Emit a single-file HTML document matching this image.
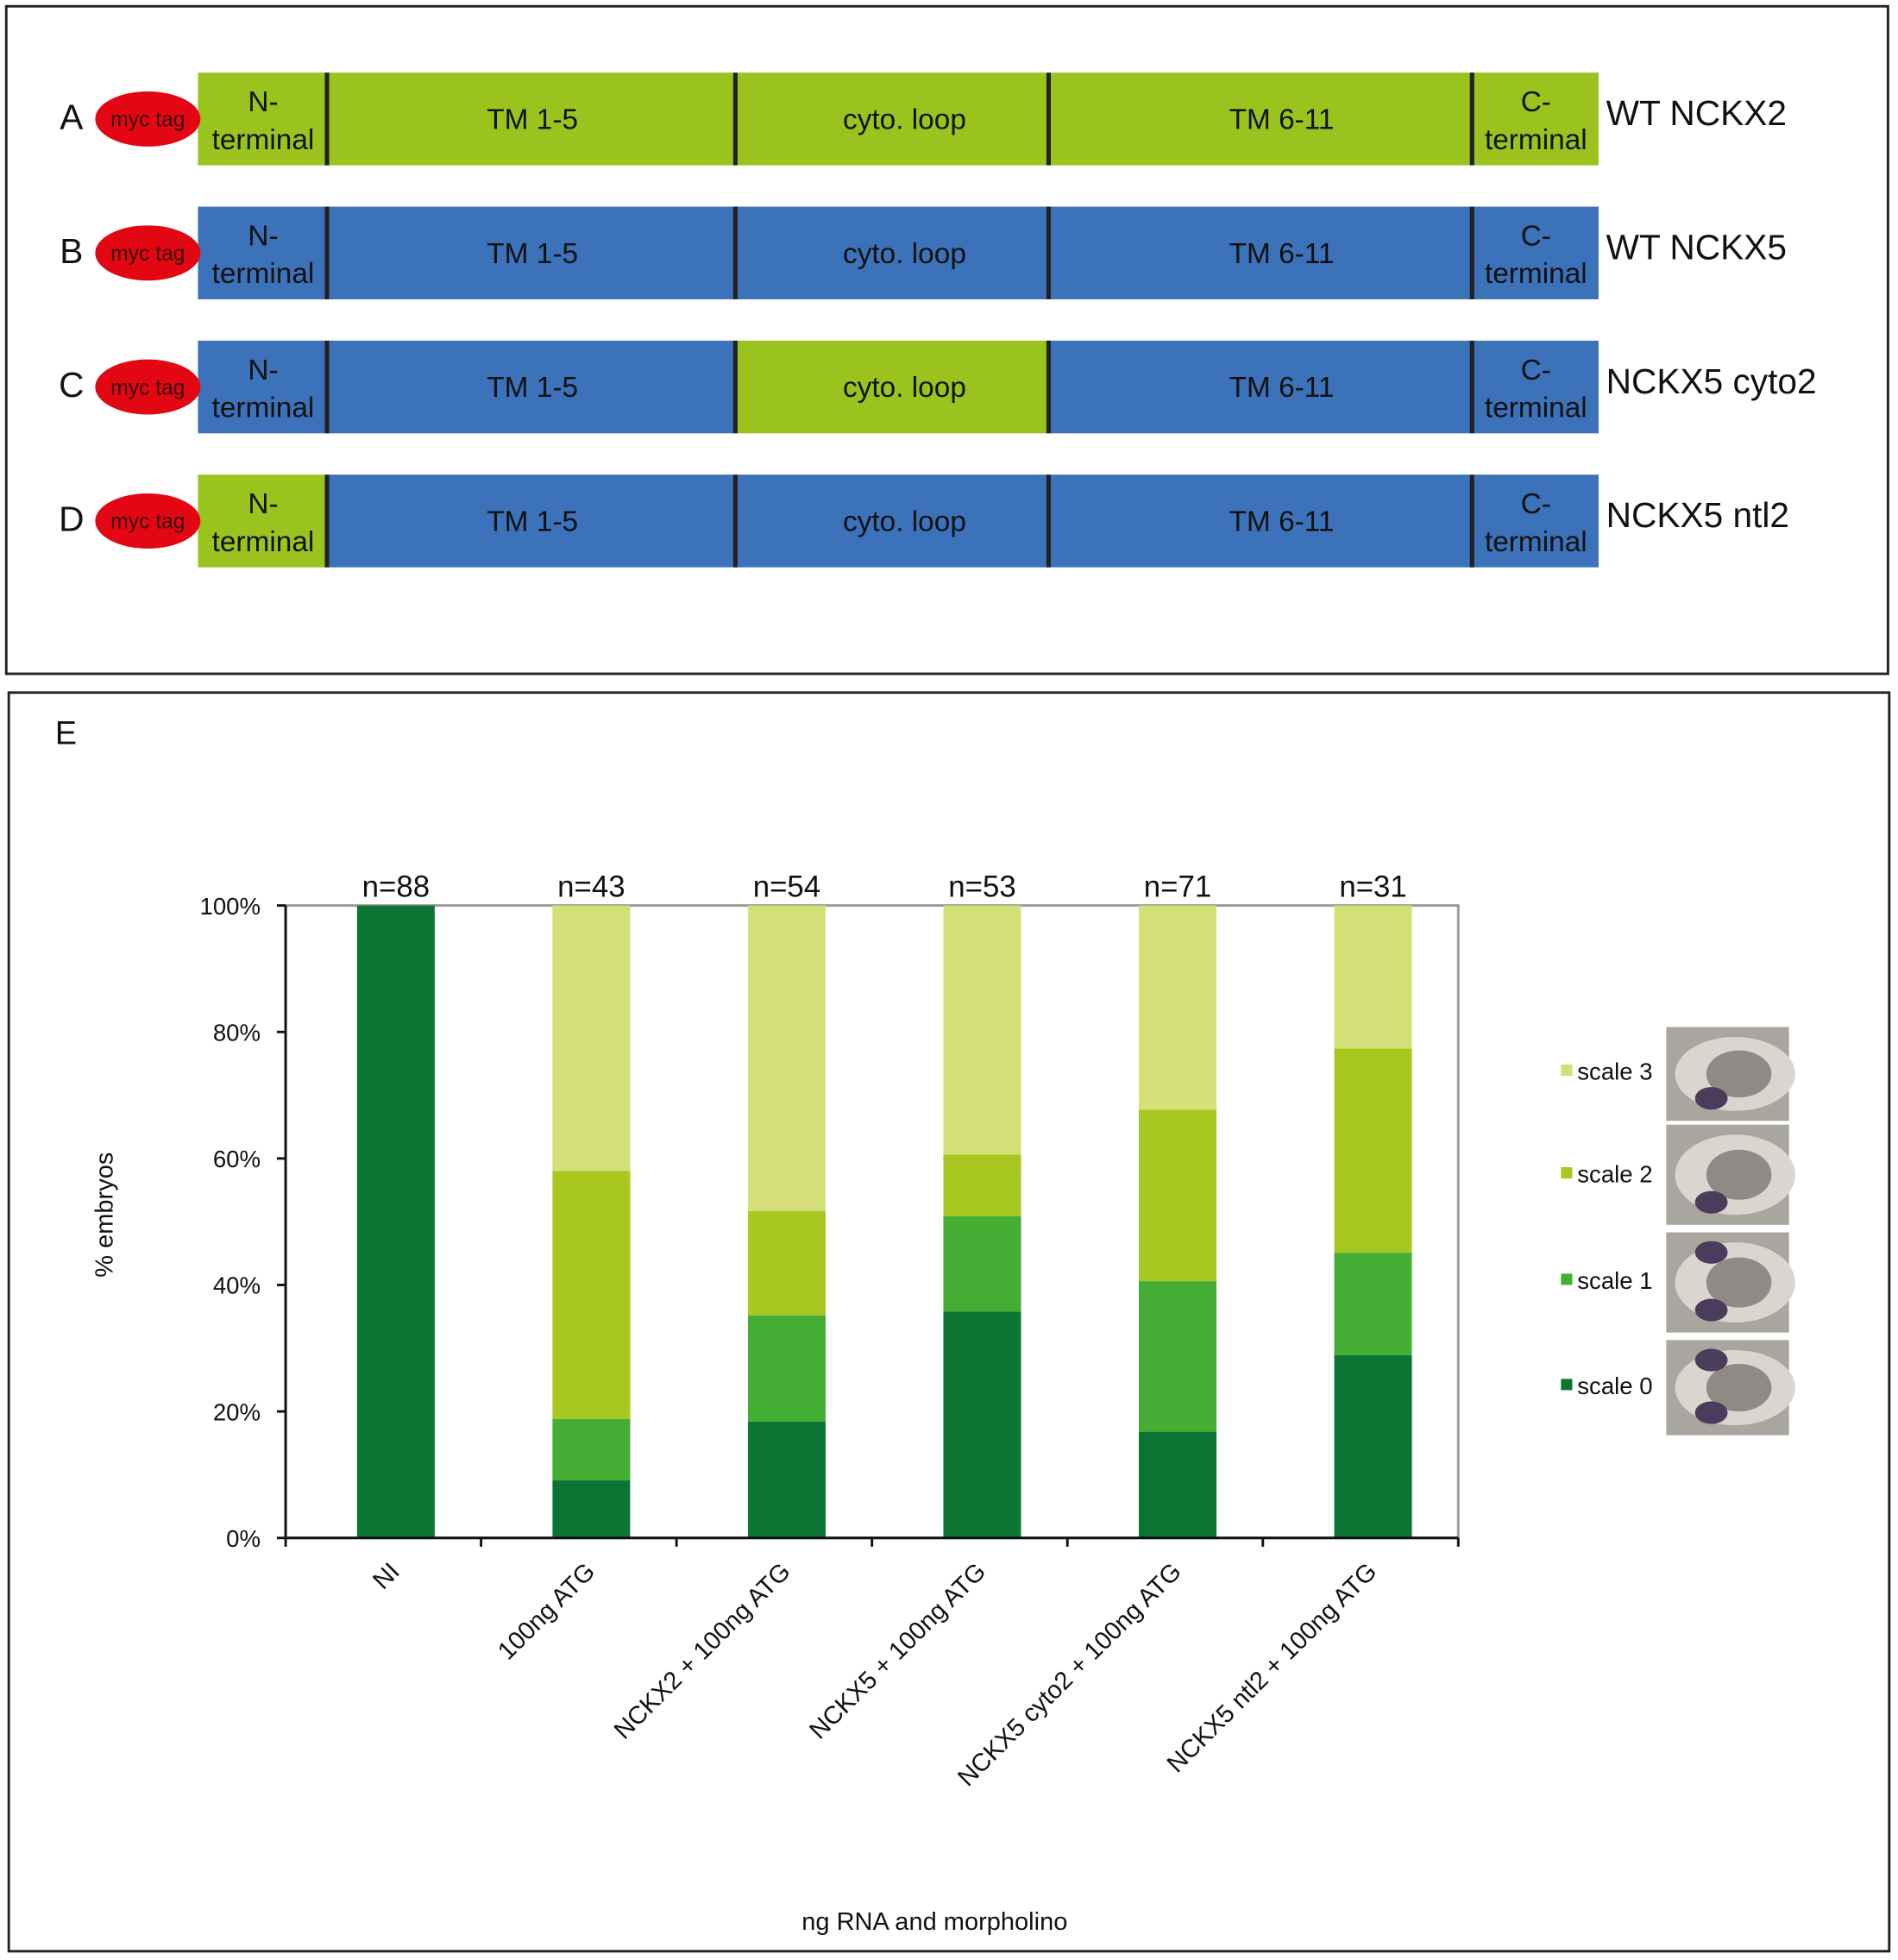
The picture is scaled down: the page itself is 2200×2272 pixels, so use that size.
<!DOCTYPE html>
<html><head><meta charset="utf-8"><style>
html,body{margin:0;padding:0;background:#fff}
svg{display:block;font-family:"Liberation Sans",sans-serif}
</style></head><body>
<svg id="fig" width="2200" height="2272" viewBox="0 0 1515 1565" preserveAspectRatio="none">
<rect x="5" y="5" width="1502" height="533" fill="none" stroke="#222" stroke-width="2"/>
<rect x="7" y="553" width="1501" height="1005" fill="none" stroke="#222" stroke-width="2"/>
<g id="constructs"></g>
<text x="44" y="594" font-size="26" fill="#111">E</text>
<g id="chart"></g>
<g id="legend"></g>
</svg>
<script>
const categories=["NI","100ng ATG","NCKX2 + 100ng ATG","NCKX5 + 100ng ATG","NCKX5 cyto2 + 100ng ATG","NCKX5 ntl2 + 100ng ATG"];
const nLabels=["n=88","n=43","n=54","n=53","n=71","n=31"];
const scale0=[100,9.1,18.4,35.8,16.8,28.9];
const scale1=[0,9.7,16.8,15.1,23.8,16.2];
const scale2=[0,39.2,16.5,9.7,27.1,32.3];
const scale3=[0,42.0,48.3,39.4,32.3,22.6];
const yTicks=[0,20,40,60,80,100];
const seriesNames=["scale 0","scale 1","scale 2","scale 3"];
const NS="http://www.w3.org/2000/svg";
function mk(tag,attrs,parent,text){const e=document.createElementNS(NS,tag);for(const k in attrs)e.setAttribute(k,attrs[k]);if(text!==undefined)e.textContent=text;parent.appendChild(e);return e;}
const G="#9bc31d",B="#3b72b9";
const rows=[{l:"A",y:58,c:[G,G,G,G,G],name:"WT NCKX2"},{l:"B",y:165,c:[B,B,B,B,B],name:"WT NCKX5"},{l:"C",y:272,c:[B,B,G,B,B],name:"NCKX5 cyto2"},{l:"D",y:379,c:[G,B,B,B,B],name:"NCKX5 ntl2"}];
const xs=[158,261,587,837,1175,1276];
const cons=document.getElementById('constructs');
rows.forEach((r,i)=>{
 const g=mk('g',{},cons);
 
 
 const h=74,cy=r.y+h/2;
 let t=mk('text',{x:57,y:cy+8,'font-size':28,'text-anchor':'middle',fill:'#111'},g,r.l);
 
 for(let k=0;k<5;k++){const s=mk('rect',{x:xs[k],y:r.y,width:xs[k+1]-xs[k],height:h,fill:r.c[k]},g);
  }
 for(let k=1;k<5;k++){mk('line',{x1:xs[k],x2:xs[k],y1:r.y,y2:r.y+h,stroke:'#222','stroke-width':3.5},g);}
 const el=mk('ellipse',{cx:118,cy:cy,rx:42,ry:22,fill:'#e30613'},g);
 
 mk('text',{x:118,y:cy+6,'font-size':17,'text-anchor':'middle',fill:'#3a0a0a'},g,'myc tag');
 const two=(x,a,b)=>{mk('text',{x:x,y:cy-6,'font-size':23,'text-anchor':'middle',fill:'#111'},g,a);mk('text',{x:x,y:cy+24,'font-size':23,'text-anchor':'middle',fill:'#111'},g,b);};
 two(210,'N-','terminal');two(1226,'C-','terminal');
 [["TM 1-5",425],["cyto. loop",722],["TM 6-11",1023]].forEach(([s,x])=>mk('text',{x:x,y:cy+8,'font-size':23,'text-anchor':'middle',fill:'#111'},g,s));
 const nm=mk('text',{x:1282,y:cy+5,'font-size':28,fill:'#111'},g,r.name);
 
});
const ch=document.getElementById('chart');
const X0=228,X1=1164,Y0=1228,Y1=723,n=categories.length,bw=(X1-X0)/n,barW=62;
const yS=v=>Y0-(v/100)*(Y0-Y1);
const cx=i=>X0+bw*(i+0.5)+10;
let pf=mk('rect',{x:X0,y:Y1,width:X1-X0,height:Y0-Y1,fill:'none',stroke:'#999','stroke-width':2},ch);

const colors=["#0b7634","#43ad34","#a8c720","#d4df77"];
const series=[scale0,scale1,scale2,scale3];
for(let i=0;i<n;i++){let acc=0;
 series.forEach((s,k)=>{const v=s[i];if(v>0){const r=mk('rect',{x:cx(i)-barW/2,y:yS(acc+v),width:barW,height:yS(acc)-yS(acc+v),fill:colors[k]},ch);
  }acc+=v;});
 const t=mk('text',{x:cx(i),y:Y1-7,'font-size':24,'text-anchor':'middle',fill:'#111'},ch,nLabels[i]);
 
 const ax=cx(i)+4,ay=Y0+28;
 const c=mk('text',{x:ax,y:ay,'font-size':20,'text-anchor':'end',fill:'#111',transform:`rotate(-45 ${ax} ${ay})`},ch,categories[i]);
 
}
mk('line',{x1:X0,x2:X0,y1:Y1,y2:Y0,stroke:'#111','stroke-width':2},ch);
mk('line',{x1:X0,x2:X1,y1:Y0,y2:Y0,stroke:'#111','stroke-width':2},ch);
for(let i=0;i<=n;i++)mk('line',{x1:X0+bw*i,x2:X0+bw*i,y1:Y0,y2:Y0+7,stroke:'#111','stroke-width':2},ch);
yTicks.forEach(v=>{mk('line',{x1:X0-7,x2:X0,y1:yS(v),y2:yS(v),stroke:'#111','stroke-width':2},ch);
 const t=mk('text',{x:X0-20,y:yS(v)+7,'font-size':19,'text-anchor':'end',fill:'#111'},ch,v+'%');
 });
const yt=mk('text',{x:90,y:970,'font-size':20,'text-anchor':'middle',fill:'#111',transform:'rotate(-90 90 970)'},ch,'% embryos');

const xt=mk('text',{x:746,y:1541,'font-size':20,'text-anchor':'middle',fill:'#111'},ch,'ng RNA and morpholino');

const lg=document.getElementById('legend');
const ly=[1107,1023,938,856];const tiles=[[1070,1146],[984,1064],[898,978],[820,895]];
for(let k=0;k<4;k++){
 const e=mk('g',{},lg);
 mk('rect',{x:1246,y:ly[k]-6,width:9,height:9,fill:colors[k]},e);
 mk('text',{x:1259,y:ly[k]+6,'font-size':19,fill:'#111'},e,seriesNames[k]);
 const [a,b]=tiles[k];
 const im=mk('g',{},lg);
 mk('rect',{x:1330,y:a,width:98,height:b-a,fill:'#a9a69f'},im);
 mk('ellipse',{cx:1385,cy:(a+b)/2,rx:48,ry:(b-a)/2-8,fill:'#d8d6cf'},im);
 mk('ellipse',{cx:1388,cy:(a+b)/2,rx:26,ry:(b-a)/4,fill:'#8f8a86'},im);
 mk('ellipse',{cx:1366,cy:b-18,rx:13,ry:9,fill:'#4a3c5a'},im);
 if(k<2)mk('ellipse',{cx:1366,cy:a+16,rx:13,ry:9,fill:'#4a3c5a'},im);
}
</script>
</body></html>
